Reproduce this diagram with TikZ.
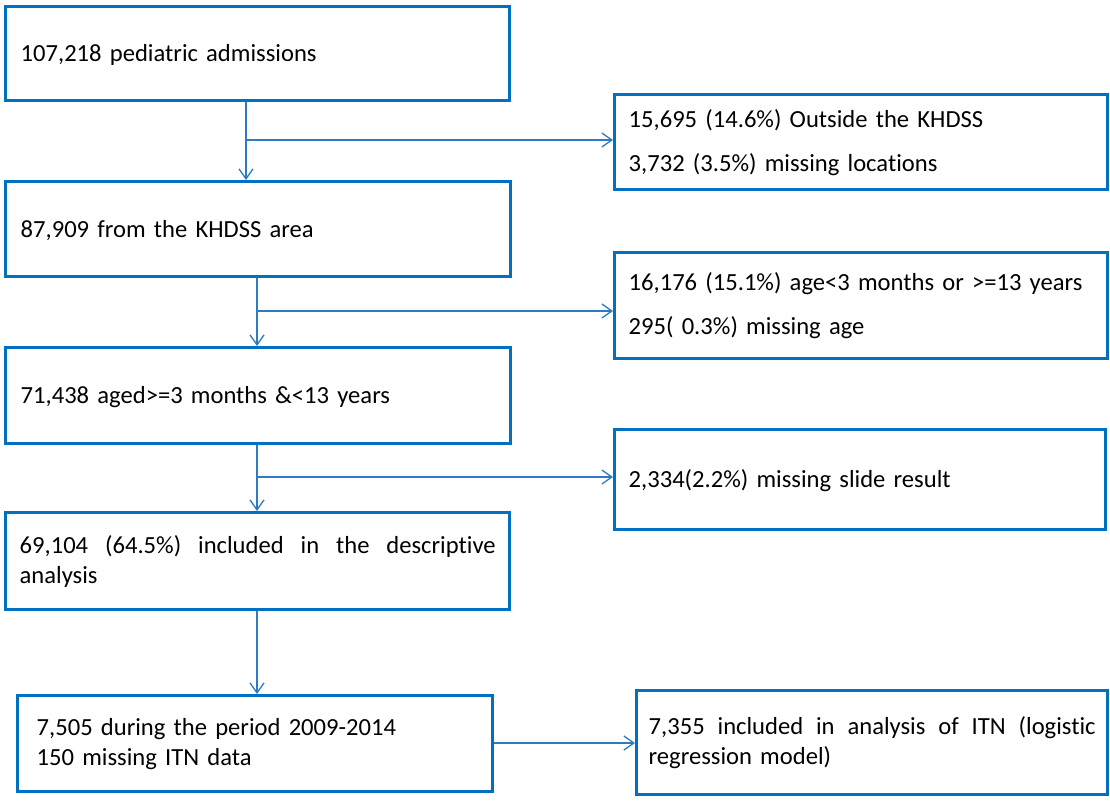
\documentclass[tikz,border=0pt]{standalone}
\usepackage{fontspec}
\setmainfont{Carlito}[Ligatures=NoCommon, WordSpace=0.85]
\usetikzlibrary{arrows.meta}
\definecolor{bblue}{HTML}{0070C0}
\definecolor{lblue}{HTML}{2E7BC4}
\begin{document}
\begin{tikzpicture}[x=1pt,y=-1pt,
  box/.style={draw=bblue, line width=3.4pt, rectangle, anchor=north west, align=left,
    inner ysep=0pt, text=black, font=\fontsize{24.6pt}{30pt}\selectfont},
  onebox/.style={box, text height=20pt, text depth=4pt},
  widebox/.style={box, font=\fontsize{24.6pt}{44pt}\selectfont},
  conn/.style={draw=lblue, line width=1.3pt, -{Straight Barb[length=10pt,width=14pt]}},
  plain/.style={draw=lblue, line width=1.3pt}]
\fill[white] (0,0) rectangle (1110,800);
\useasboundingbox (0,0) rectangle (1110,800);

% left column
\node[onebox, minimum width=504pt, minimum height=94pt, inner xsep=15pt, text width=474pt] (b1) at (4,5)
  {107,218 pediatric admissions};
\node[onebox, minimum width=505pt, minimum height=95pt, inner xsep=15pt, text width=475pt] (b2) at (4,180)
  {87,909 from the KHDSS area};
\node[onebox, minimum width=505pt, minimum height=96pt, inner xsep=15pt, text width=475pt] (b3) at (4,346)
  {71,438 aged>=3 months \&<13 years};
\node[box, minimum width=504pt, minimum height=97pt, inner xsep=14pt, text width=476pt] (b4) at (4,511)
  {\hbox to 476pt{69,104\hfill(64.5\%)\hfill included\hfill in\hfill the\hfill descriptive}\\analysis};
\node[box, minimum width=475pt, minimum height=96pt, inner xsep=19pt, text width=437pt] (b5) at (16,694)
  {7,505 during the period 2009-2014\\150 missing ITN data};

% right column
\node[widebox, minimum width=493pt, minimum height=95pt, inner xsep=14pt, text width=465pt] (r1) at (613,93)
  {15,695 (14.6\%) Outside the KHDSS\\3,732 (3.5\%) missing locations};
\node[widebox, minimum width=493pt, minimum height=106pt, inner xsep=14pt, text width=465pt] (r2) at (613,251)
  {16,176 (15.1\%) age<3 months or >=13 years\\295( 0.3\%) missing age};
\node[onebox, minimum width=491pt, minimum height=100pt, inner xsep=14pt, text width=463pt] (r3) at (613,428)
  {2,334(2.2\%) missing slide result};
\node[box, minimum width=471pt, minimum height=104pt, inner xsep=12pt, text width=447pt] (r4) at (635,689)
  {\hbox to 447pt{7,355\hfill included\hfill in\hfill analysis\hfill of\hfill ITN\hfill (logistic}\\regression model)};

% junctions
\coordinate (j1) at (246,140);
\coordinate (j2) at (257,311);
\coordinate (j3) at (257,477);
\coordinate (j4) at (257,650);
\coordinate (j5) at (491,743);

% connectors
\draw[conn] (b1.south -| j1) -- (b2.north -| j1);
\draw[conn] (j1) -- (j1 -| r1.west);
\draw[conn] (b2.south -| j2) -- (b3.north -| j2);
\draw[conn] (j2) -- (j2 -| r2.west);
\draw[conn] (b3.south -| j3) -- (b4.north -| j3);
\draw[conn] (j3) -- (j3 -| r3.west);
\draw[conn] (b4.south -| j4) -- (b5.north -| j4);
\draw[conn] (b5.east |- j5) -- (r4.west |- j5);
\end{tikzpicture}
\end{document}
